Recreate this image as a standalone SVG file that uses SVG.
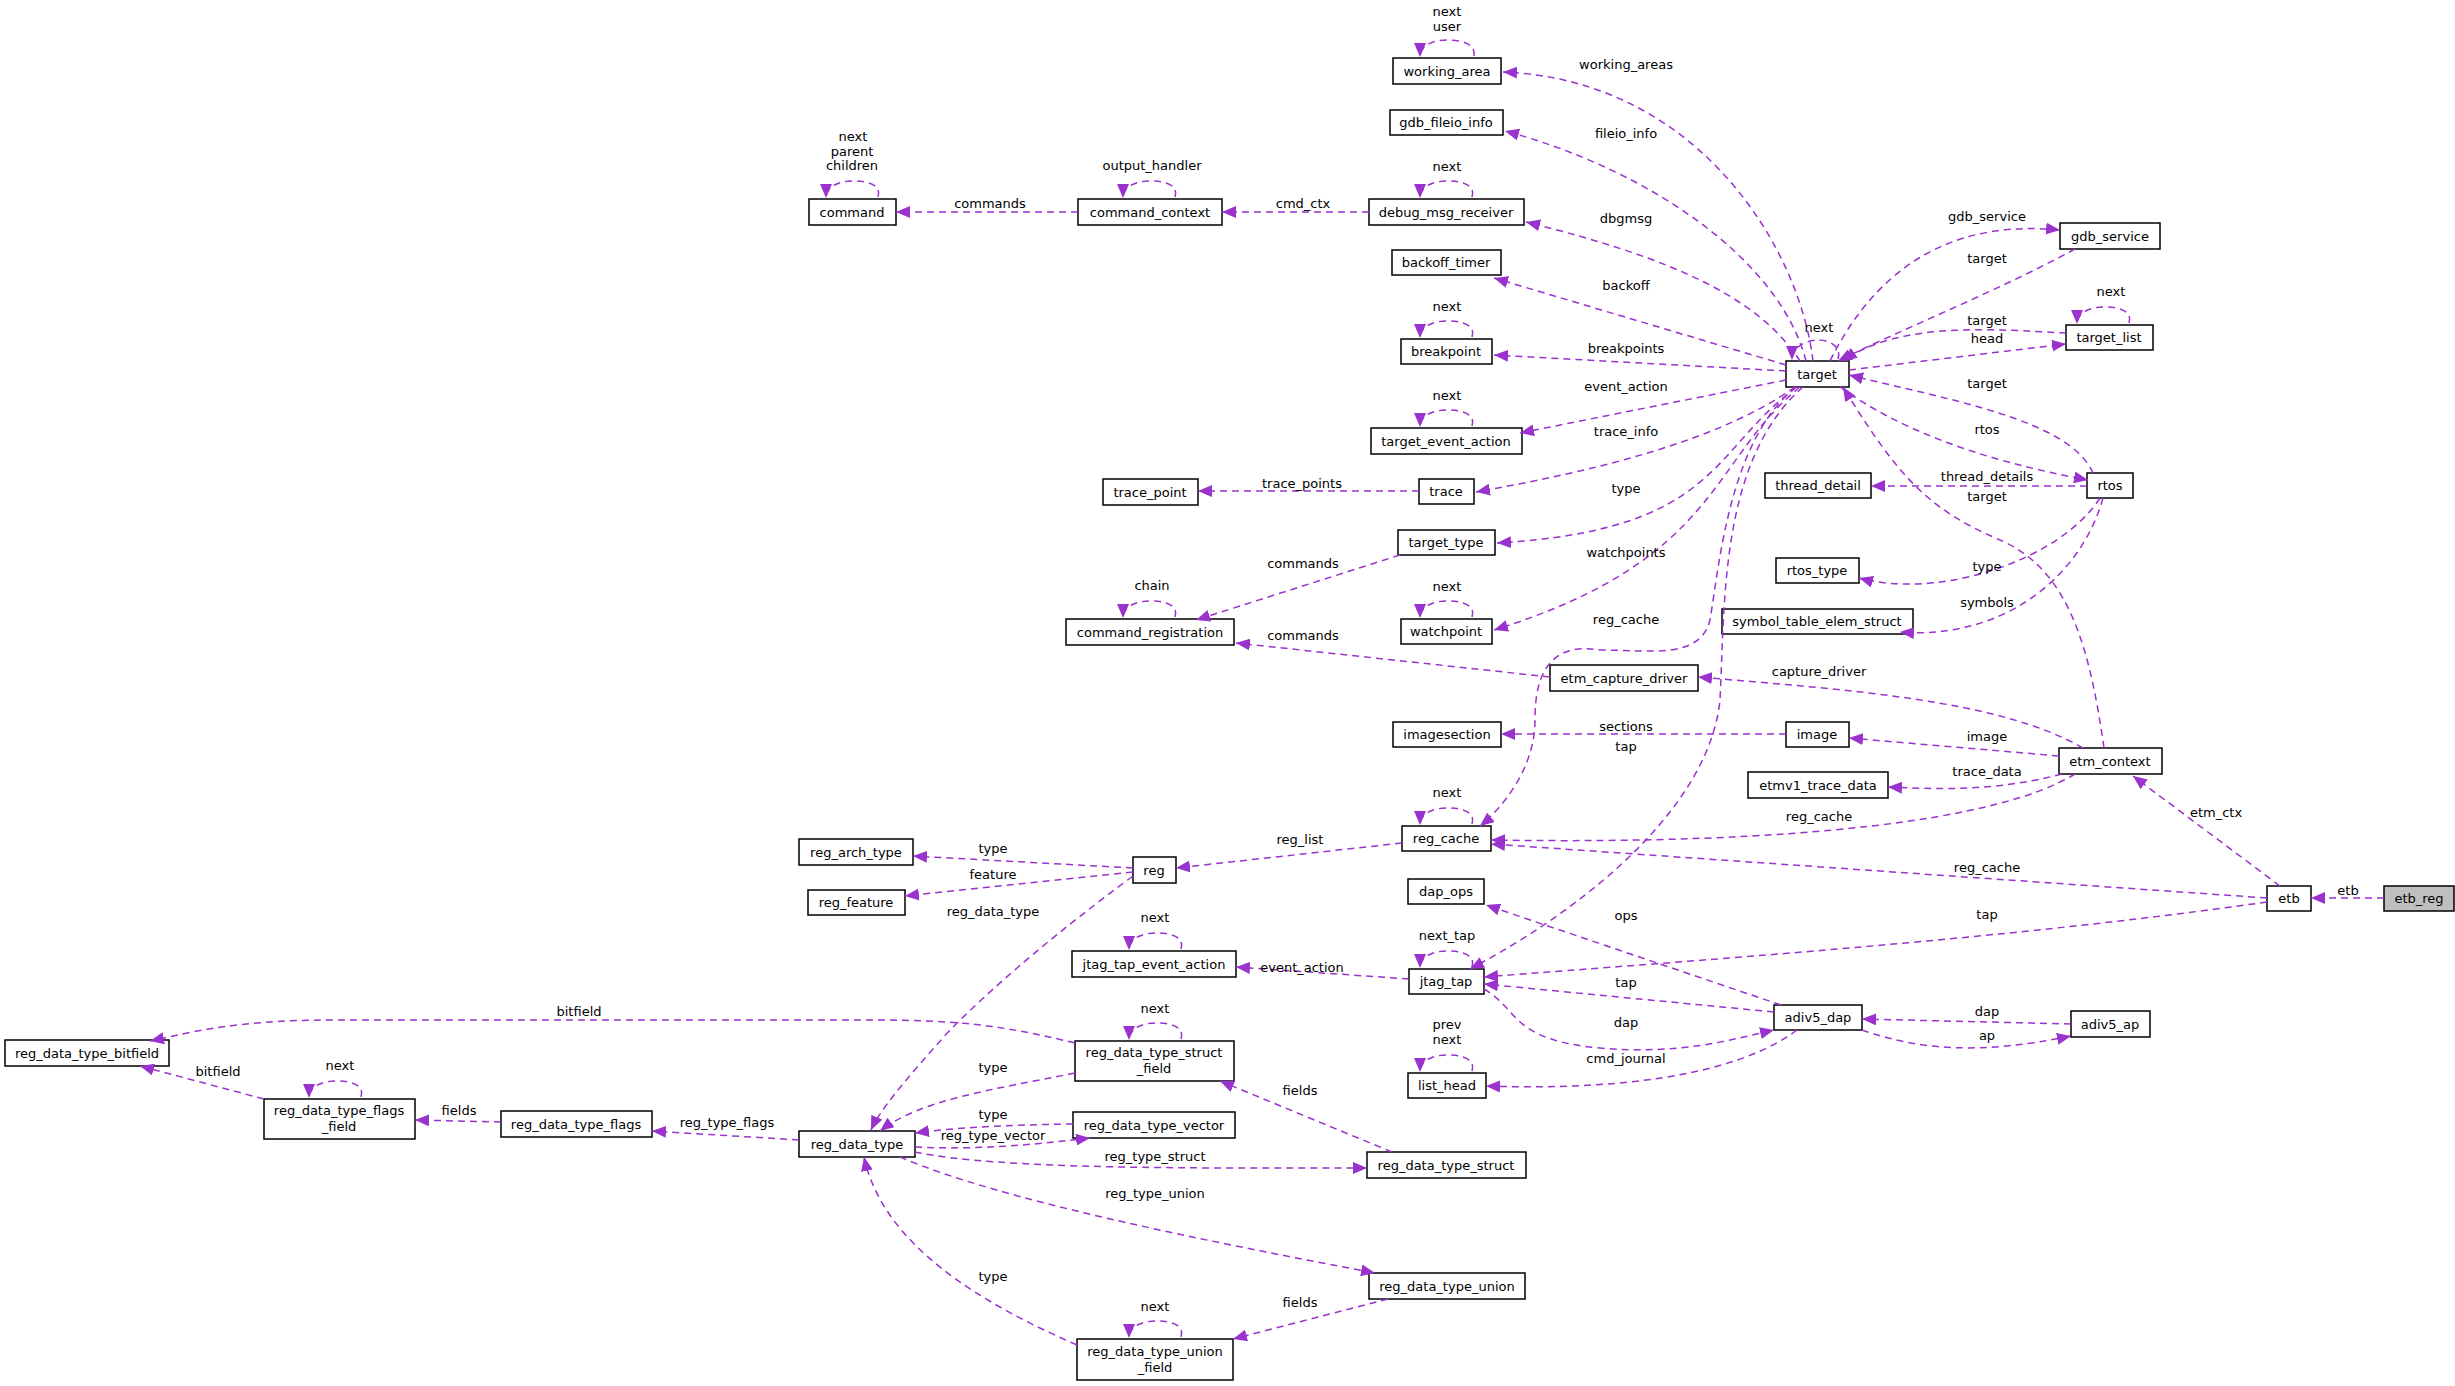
<svg xmlns="http://www.w3.org/2000/svg" width="2455" height="1386" viewBox="0 0 2455 1386">
<style>
.n rect{fill:#fff;stroke:#000;stroke-width:1.5}
.n text,.l{font-family:"DejaVu Sans",sans-serif;font-size:13px;fill:#000;text-anchor:middle}
.e path{fill:none;stroke:#9a32cd;stroke-width:1.5;stroke-dasharray:7,5;marker-end:url(#a)}
</style>
<defs><marker id="a" markerUnits="userSpaceOnUse" markerWidth="16" markerHeight="12" refX="14" refY="6" orient="auto"><path d="M0,0L14,6L0,12z" fill="#9a32cd"/></marker></defs>
<g id="nodes">
<g class="n" id="working_area"><rect x="1393" y="58" width="108" height="26"/><text x="1447" y="76">working_area</text></g>
<g class="n" id="gdb_fileio_info"><rect x="1390" y="110" width="113" height="25"/><text x="1446" y="127">gdb_fileio_info</text></g>
<g class="n" id="debug_msg_receiver"><rect x="1369" y="199" width="155" height="26"/><text x="1446" y="217">debug_msg_receiver</text></g>
<g class="n" id="backoff_timer"><rect x="1392" y="250" width="109" height="25"/><text x="1446" y="267">backoff_timer</text></g>
<g class="n" id="breakpoint"><rect x="1401" y="339" width="91" height="25"/><text x="1446" y="356">breakpoint</text></g>
<g class="n" id="target_event_action"><rect x="1371" y="428" width="151" height="26"/><text x="1446" y="446">target_event_action</text></g>
<g class="n" id="trace"><rect x="1419" y="479" width="55" height="25"/><text x="1446" y="496">trace</text></g>
<g class="n" id="target_type"><rect x="1398" y="530" width="97" height="25"/><text x="1446" y="547">target_type</text></g>
<g class="n" id="watchpoint"><rect x="1401" y="619" width="91" height="25"/><text x="1446" y="636">watchpoint</text></g>
<g class="n" id="etm_capture_driver"><rect x="1550" y="665" width="148" height="26"/><text x="1624" y="683">etm_capture_driver</text></g>
<g class="n" id="target"><rect x="1786" y="361" width="63" height="26"/><text x="1817" y="379">target</text></g>
<g class="n" id="gdb_service"><rect x="2060" y="223" width="100" height="26"/><text x="2110" y="241">gdb_service</text></g>
<g class="n" id="target_list"><rect x="2066" y="325" width="87" height="25"/><text x="2109" y="342">target_list</text></g>
<g class="n" id="rtos"><rect x="2087" y="473" width="46" height="25"/><text x="2110" y="490">rtos</text></g>
<g class="n" id="thread_detail"><rect x="1765" y="473" width="106" height="25"/><text x="1818" y="490">thread_detail</text></g>
<g class="n" id="rtos_type"><rect x="1776" y="558" width="83" height="25"/><text x="1817" y="575">rtos_type</text></g>
<g class="n" id="symbol_table_elem_struct"><rect x="1722" y="609" width="191" height="25"/><text x="1817" y="626">symbol_table_elem_struct</text></g>
<g class="n" id="imagesection"><rect x="1393" y="722" width="108" height="25"/><text x="1447" y="739">imagesection</text></g>
<g class="n" id="image"><rect x="1786" y="722" width="63" height="25"/><text x="1817" y="739">image</text></g>
<g class="n" id="etm_context"><rect x="2059" y="748" width="103" height="26"/><text x="2110" y="766">etm_context</text></g>
<g class="n" id="etmv1_trace_data"><rect x="1748" y="772" width="140" height="26"/><text x="1818" y="790">etmv1_trace_data</text></g>
<g class="n" id="reg_cache"><rect x="1402" y="826" width="89" height="25"/><text x="1446" y="843">reg_cache</text></g>
<g class="n" id="dap_ops"><rect x="1408" y="879" width="76" height="25"/><text x="1446" y="896">dap_ops</text></g>
<g class="n" id="jtag_tap"><rect x="1409" y="969" width="75" height="25"/><text x="1446" y="986">jtag_tap</text></g>
<g class="n" id="adiv5_dap"><rect x="1774" y="1005" width="88" height="25"/><text x="1818" y="1022">adiv5_dap</text></g>
<g class="n" id="adiv5_ap"><rect x="2071" y="1011" width="79" height="26"/><text x="2110" y="1029">adiv5_ap</text></g>
<g class="n" id="list_head"><rect x="1408" y="1073" width="78" height="25"/><text x="1447" y="1090">list_head</text></g>
<g class="n" id="etb"><rect x="2267" y="886" width="44" height="25"/><text x="2289" y="903">etb</text></g>
<g class="n" id="etb_reg"><rect x="2384" y="886" width="70" height="25" style="fill:#bfbfbf"/><text x="2419" y="903">etb_reg</text></g>
<g class="n" id="reg_data_type_struct"><rect x="1367" y="1152" width="159" height="26"/><text x="1446" y="1170">reg_data_type_struct</text></g>
<g class="n" id="reg_data_type_union"><rect x="1369" y="1273" width="156" height="26"/><text x="1447" y="1291">reg_data_type_union</text></g>
<g class="n" id="reg_arch_type"><rect x="799" y="839" width="114" height="26"/><text x="856" y="857">reg_arch_type</text></g>
<g class="n" id="reg"><rect x="1133" y="857" width="43" height="26"/><text x="1154" y="875">reg</text></g>
<g class="n" id="reg_feature"><rect x="808" y="890" width="97" height="25"/><text x="856" y="907">reg_feature</text></g>
<g class="n" id="jtag_tap_event_action"><rect x="1072" y="951" width="164" height="26"/><text x="1154" y="969">jtag_tap_event_action</text></g>
<g class="n" id="reg_data_type_struct_field"><rect x="1075" y="1041" width="159" height="40"/><text x="1154" y="1057">reg_data_type_struct</text><text x="1154" y="1073">_field</text></g>
<g class="n" id="reg_data_type_bitfield"><rect x="5" y="1040" width="164" height="26"/><text x="87" y="1058">reg_data_type_bitfield</text></g>
<g class="n" id="reg_data_type_flags_field"><rect x="264" y="1099" width="151" height="40"/><text x="339" y="1115">reg_data_type_flags</text><text x="339" y="1131">_field</text></g>
<g class="n" id="reg_data_type_flags"><rect x="501" y="1111" width="151" height="26"/><text x="576" y="1129">reg_data_type_flags</text></g>
<g class="n" id="reg_data_type"><rect x="799" y="1131" width="116" height="26"/><text x="857" y="1149">reg_data_type</text></g>
<g class="n" id="reg_data_type_vector"><rect x="1073" y="1112" width="162" height="26"/><text x="1154" y="1130">reg_data_type_vector</text></g>
<g class="n" id="reg_data_type_union_field"><rect x="1077" y="1339" width="156" height="41"/><text x="1155" y="1356">reg_data_type_union</text><text x="1155" y="1372">_field</text></g>
<g class="n" id="command"><rect x="809" y="199" width="87" height="26"/><text x="852" y="217">command</text></g>
<g class="n" id="command_context"><rect x="1078" y="199" width="144" height="26"/><text x="1150" y="217">command_context</text></g>
<g class="n" id="trace_point"><rect x="1103" y="479" width="95" height="26"/><text x="1150" y="497">trace_point</text></g>
<g class="n" id="command_registration"><rect x="1066" y="619" width="168" height="26"/><text x="1150" y="637">command_registration</text></g>
</g>
<g class="e" id="edges">
<path d="M1474,56 C1476,44 1462,40 1447,40 C1432,40 1420,46 1420,57"/>
<path d="M1472,197 C1476,185 1462,181 1447,181 C1432,181 1420,187 1420,198"/>
<path d="M1472,337 C1476,325 1462,321 1447,321 C1432,321 1420,327 1420,338"/>
<path d="M1472,426 C1476,414 1462,410 1447,410 C1432,410 1420,416 1420,427"/>
<path d="M1472,617 C1476,605 1462,601 1447,601 C1432,601 1420,607 1420,618"/>
<path d="M1472,824 C1476,812 1462,808 1447,808 C1432,808 1420,814 1420,825"/>
<path d="M1472,967 C1476,955 1462,951 1447,951 C1432,951 1420,957 1420,968"/>
<path d="M1472,1071 C1476,1059 1462,1055 1447,1055 C1432,1055 1420,1061 1420,1072"/>
<path d="M878,197 C882,185 868,181 853,181 C838,181 826,187 826,198"/>
<path d="M1175,197 C1179,185 1165,181 1150,181 C1135,181 1123,187 1123,198"/>
<path d="M1175,617 C1179,605 1165,601 1150,601 C1135,601 1123,607 1123,618"/>
<path d="M1181,949 C1185,937 1171,933 1156,933 C1141,933 1129,939 1129,950"/>
<path d="M1181,1039 C1185,1027 1171,1023 1156,1023 C1141,1023 1129,1029 1129,1040"/>
<path d="M1181,1337 C1185,1325 1171,1321 1156,1321 C1141,1321 1129,1327 1129,1338"/>
<path d="M361,1097 C365,1085 351,1081 336,1081 C321,1081 309,1087 309,1098"/>
<path d="M2129,323 C2133,311 2119,307 2104,307 C2089,307 2077,313 2077,324"/>
<path d="M1838,359 C1842,347 1830,340 1818,340 C1806,340 1792,347 1792,360"/>
<path d="M1813,361 C1800,250 1700,80 1503,72"/>
<path d="M1806,361 C1780,260 1650,170 1505,131"/>
<path d="M1800,361 C1760,300 1680,260 1526,222"/>
<path d="M1786,365 L1494,278"/>
<path d="M1786,371 L1494,355"/>
<path d="M1786,380 L1520,433"/>
<path d="M1795,387 C1720,440 1600,470 1476,492"/>
<path d="M1797,387 C1710,450 1720,530 1497,543"/>
<path d="M1800,387 C1710,460 1720,560 1494,630"/>
<path d="M1796,387 C1730,440 1720,560 1710,620 C1700,660 1650,650 1600,650 C1540,640 1535,690 1535,720 C1535,770 1500,810 1480,826"/>
<path d="M1803,387 C1720,460 1725,600 1720,700 C1710,800 1600,900 1470,969"/>
<path d="M1830,361 C1880,260 1960,220 2060,230"/>
<path d="M2075,249 C2000,290 1900,330 1838,361"/>
<path d="M2066,333 C2000,330 1900,320 1843,361"/>
<path d="M1849,370 L2066,344"/>
<path d="M2093,473 C2070,420 1950,400 1849,375"/>
<path d="M1840,387 C1900,430 1980,460 2088,480"/>
<path d="M2087,486 L1871,486"/>
<path d="M2104,748 C2090,650 2070,570 2000,540 C1930,510 1900,480 1843,387"/>
<path d="M2100,498 C2060,560 1940,600 1859,578"/>
<path d="M2103,498 C2080,580 2000,640 1900,632"/>
<path d="M2083,748 C2000,700 1850,690 1698,677"/>
<path d="M1550,677 L1236,643"/>
<path d="M1400,555 L1196,620"/>
<path d="M1419,491 L1198,491"/>
<path d="M1369,212 L1222,212"/>
<path d="M1078,212 L896,212"/>
<path d="M1786,734 L1501,734"/>
<path d="M2059,756 L1849,738"/>
<path d="M2062,774 C2000,790 1950,790 1888,787"/>
<path d="M2075,774 C2000,820 1800,845 1491,840"/>
<path d="M2267,898 L1491,844"/>
<path d="M2280,886 L2133,776"/>
<path d="M2384,898 L2311,898"/>
<path d="M2267,902 C2000,940 1700,960 1484,977"/>
<path d="M1781,1005 L1486,905"/>
<path d="M1774,1012 L1484,984"/>
<path d="M1484,989 C1520,1010 1510,1040 1600,1048 C1680,1055 1730,1040 1774,1030"/>
<path d="M1797,1030 C1730,1080 1600,1090 1486,1086"/>
<path d="M2071,1024 L1862,1019"/>
<path d="M1862,1030 C1920,1050 1980,1055 2071,1036"/>
<path d="M1409,979 L1236,967"/>
<path d="M1402,843 L1176,868"/>
<path d="M1133,868 L913,856"/>
<path d="M1133,872 L905,896"/>
<path d="M1133,876 C1060,930 1000,980 950,1030 C905,1080 880,1110 871,1130"/>
<path d="M1075,1073 C990,1090 920,1100 880,1131"/>
<path d="M1075,1043 C1000,1025 960,1020 870,1020 L330,1020 C230,1020 180,1035 150,1041"/>
<path d="M264,1099 L140,1066"/>
<path d="M501,1122 L415,1120"/>
<path d="M799,1140 L652,1131"/>
<path d="M1073,1124 C1010,1125 960,1127 915,1133"/>
<path d="M915,1147 C980,1150 1030,1145 1090,1138"/>
<path d="M915,1152 C1000,1170 1200,1168 1367,1168"/>
<path d="M900,1157 C1000,1200 1200,1240 1375,1273"/>
<path d="M1077,1345 C950,1290 880,1230 864,1157"/>
<path d="M1392,1152 L1220,1081"/>
<path d="M1388,1299 L1233,1339"/>
</g>
<g id="labels">
<text class="l" x="1447" y="16">next</text><text class="l" x="1447" y="31">user</text>
<text class="l" x="1447" y="171">next</text><text class="l" x="1447" y="311">next</text>
<text class="l" x="1447" y="400">next</text><text class="l" x="1447" y="591">next</text>
<text class="l" x="1447" y="797">next</text><text class="l" x="1447" y="940">next_tap</text>
<text class="l" x="1447" y="1029">prev</text><text class="l" x="1447" y="1044">next</text>
<text class="l" x="853" y="141">next</text><text class="l" x="852" y="156">parent</text><text class="l" x="852" y="170">children</text>
<text class="l" x="1152" y="170">output_handler</text><text class="l" x="1152" y="590">chain</text>
<text class="l" x="1155" y="922">next</text><text class="l" x="1155" y="1013">next</text><text class="l" x="1155" y="1311">next</text>
<text class="l" x="340" y="1070">next</text><text class="l" x="2111" y="296">next</text><text class="l" x="1819" y="332">next</text>
<text class="l" x="1626" y="69">working_areas</text><text class="l" x="1626" y="138">fileio_info</text>
<text class="l" x="1626" y="223">dbgmsg</text><text class="l" x="1626" y="290">backoff</text>
<text class="l" x="1626" y="353">breakpoints</text><text class="l" x="1626" y="391">event_action</text>
<text class="l" x="1626" y="436">trace_info</text><text class="l" x="1626" y="493">type</text>
<text class="l" x="1626" y="557">watchpoints</text><text class="l" x="1626" y="624">reg_cache</text>
<text class="l" x="1987" y="221">gdb_service</text><text class="l" x="1987" y="263">target</text>
<text class="l" x="1987" y="325">target</text><text class="l" x="1987" y="343">head</text>
<text class="l" x="1987" y="388">target</text><text class="l" x="1987" y="434">rtos</text>
<text class="l" x="1987" y="481">thread_details</text><text class="l" x="1987" y="501">target</text>
<text class="l" x="1987" y="571">type</text><text class="l" x="1987" y="607">symbols</text>
<text class="l" x="1819" y="676">capture_driver</text>
<text class="l" x="1626" y="731">sections</text><text class="l" x="1626" y="751">tap</text>
<text class="l" x="1987" y="741">image</text><text class="l" x="1987" y="776">trace_data</text>
<text class="l" x="1819" y="821">reg_cache</text><text class="l" x="2216" y="817">etm_ctx</text>
<text class="l" x="1987" y="872">reg_cache</text><text class="l" x="2348" y="895">etb</text>
<text class="l" x="1626" y="920">ops</text><text class="l" x="1987" y="919">tap</text>
<text class="l" x="1626" y="987">tap</text><text class="l" x="1987" y="1016">dap</text>
<text class="l" x="1626" y="1027">dap</text><text class="l" x="1987" y="1040">ap</text>
<text class="l" x="1626" y="1063">cmd_journal</text>
<text class="l" x="1300" y="844">reg_list</text><text class="l" x="1302" y="972">event_action</text>
<text class="l" x="993" y="853">type</text><text class="l" x="993" y="879">feature</text>
<text class="l" x="993" y="916">reg_data_type</text><text class="l" x="579" y="1016">bitfield</text>
<text class="l" x="993" y="1072">type</text><text class="l" x="218" y="1076">bitfield</text>
<text class="l" x="459" y="1115">fields</text><text class="l" x="993" y="1119">type</text>
<text class="l" x="727" y="1127">reg_type_flags</text><text class="l" x="993" y="1140">reg_type_vector</text>
<text class="l" x="1155" y="1161">reg_type_struct</text><text class="l" x="1155" y="1198">reg_type_union</text>
<text class="l" x="993" y="1281">type</text><text class="l" x="1300" y="1095">fields</text>
<text class="l" x="1300" y="1307">fields</text>
<text class="l" x="990" y="208">commands</text><text class="l" x="1303" y="208">cmd_ctx</text>
<text class="l" x="1302" y="488">trace_points</text><text class="l" x="1303" y="568">commands</text>
<text class="l" x="1303" y="640">commands</text>
</g>
</svg>
